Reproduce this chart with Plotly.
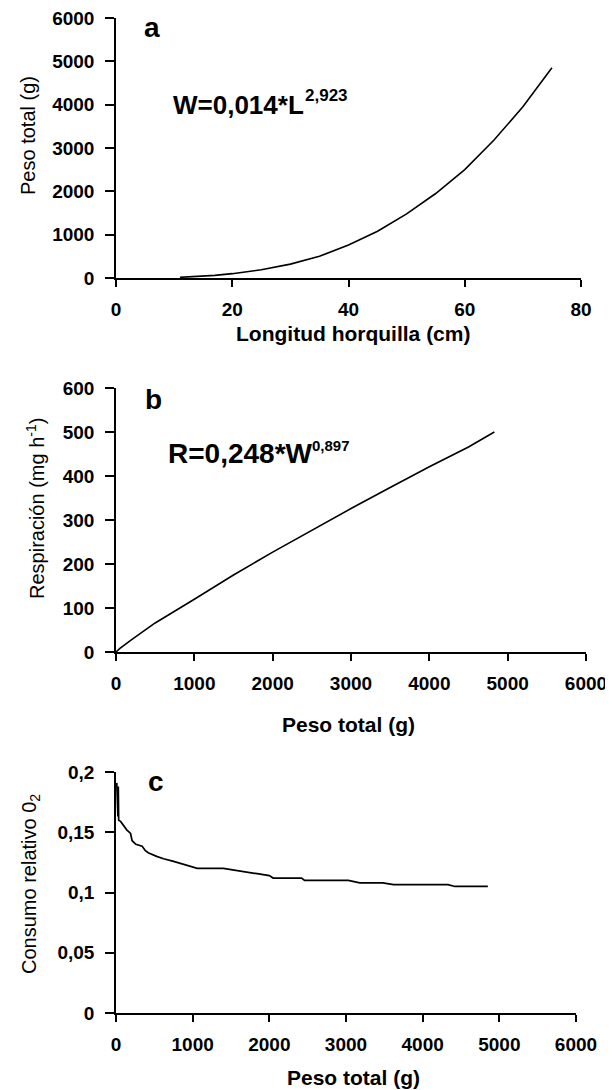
import plotly.graph_objects as go

# ---------- data ----------
# panel a: total weight vs fork length
longitud_cm = [11, 13, 15, 17, 20, 25, 30, 35, 40, 45, 50, 55, 60, 65, 70, 75]
peso_a_g = [15, 25, 40, 60, 100, 190, 320, 500, 760, 1080, 1480, 1950, 2500, 3180, 3950, 4850]

# panel b: respiration vs total weight
peso_b_g = [0, 50, 200, 500, 1000, 1500, 2000, 2500, 3000, 3500, 4000, 4500, 4830]
respiracion = [0, 8, 28, 66, 120, 175, 227, 277, 326, 374, 421, 466, 500]

# panel c: relative O2 consumption vs total weight
peso_c_g = [10, 15, 20, 25, 30, 35, 60, 90, 140, 190, 210, 260, 340, 380, 420, 530, 620,
            740, 900, 960, 1060, 1400, 1500, 1700, 1850, 2000, 2050, 2420, 2460, 3030,
            3180, 3480, 3620, 4330, 4420, 4850]
consumo_rel = [0.191, 0.165, 0.190, 0.163, 0.188, 0.160, 0.159, 0.156, 0.152, 0.149, 0.143,
               0.140, 0.1385, 0.135, 0.133, 0.130, 0.128, 0.126, 0.123, 0.122, 0.120, 0.120,
               0.119, 0.1165, 0.115, 0.114, 0.112, 0.112, 0.110, 0.110, 0.108, 0.108, 0.1065,
               0.1065, 0.105, 0.105]

# ticks
xa_ticks = [0, 20, 40, 60, 80]
ya_ticks = [0, 1000, 2000, 3000, 4000, 5000, 6000]
xb_ticks = [0, 1000, 2000, 3000, 4000, 5000, 6000]
yb_ticks = [0, 100, 200, 300, 400, 500, 600]
yc_ticks = [0, 0.05, 0.1, 0.15, 0.2]
yc_ticktext = ["0", "0,05", "0,1", "0,15", "0,2"]

# the page body adds an 8px margin; size the figure so it fits the window
OFF = 8
W, H = 613 - OFF, 1090 - OFF
BASE = "Liberation Sans, Arial, sans-serif"
NARROW = "Liberation Sans Narrow, Arial Narrow, Liberation Sans, Arial, sans-serif"

def px(x):
    return (x - OFF) / W

def py(y):
    return 1 - (y - OFF) / H

fig = go.Figure()
fig.add_trace(go.Scatter(x=longitud_cm, y=peso_a_g, mode="lines", line=dict(color="black", width=1.6),
                         xaxis="x", yaxis="y", showlegend=False))
fig.add_trace(go.Scatter(x=peso_b_g, y=respiracion, mode="lines", line=dict(color="black", width=1.6),
                         xaxis="x2", yaxis="y2", showlegend=False))
fig.add_trace(go.Scatter(x=peso_c_g, y=consumo_rel, mode="lines", line=dict(color="black", width=1.7),
                         xaxis="x3", yaxis="y3", showlegend=False))

tickfont = dict(family=BASE, size=19, color="black", weight="bold")

def xax(domain, anchor, rng, ticks):
    return dict(domain=domain, anchor=anchor, range=rng, tickvals=ticks, showgrid=False,
                zeroline=False, showline=True, linecolor="black", linewidth=1.5,
                ticks="outside", ticklen=7, tickwidth=1.5, tickcolor="black",
                tickfont=tickfont, ticklabelstandoff=6, fixedrange=True, automargin=False,
                ticklabeloverflow="allow")

def yax(domain, anchor, rng, ticks, text=None):
    d = dict(domain=domain, anchor=anchor, range=rng, tickvals=ticks, showgrid=False,
             zeroline=False, showline=True, linecolor="black", linewidth=1.5,
             ticks="outside", ticklen=9, tickwidth=1.5, tickcolor="black",
             tickfont=tickfont, ticklabelstandoff=7, fixedrange=True, automargin=False,
             ticklabeloverflow="allow")
    if text is not None:
        d["ticktext"] = text
    return d

fig.update_layout(
    template="none",
    width=W, height=H,
    margin=dict(l=0, r=0, t=0, b=0, pad=0, autoexpand=False),
    paper_bgcolor="white", plot_bgcolor="white",
    xaxis=xax([px(116), px(581)], "y", [0, 80], xa_ticks),
    yaxis=yax([py(278), py(18)], "x", [0, 6000], ya_ticks),
    xaxis2=xax([px(116), px(586)], "y2", [0, 6000], xb_ticks),
    yaxis2=yax([py(652), py(388)], "x2", [0, 600], yb_ticks),
    xaxis3=xax([px(116), px(576)], "y3", [0, 6000], xb_ticks),
    yaxis3=yax([py(1013), py(772)], "x3", [0, 0.2], yc_ticks, yc_ticktext),
)

ann = []
def text(x, y, s, size, bold=False, family=BASE, angle=0, xanchor="center", yanchor="middle"):
    f = dict(family=family, size=size, color="black")
    if bold:
        f["weight"] = "bold"
    ann.append(dict(x=px(x), y=py(y), xref="paper", yref="paper", text=s, showarrow=False,
                    font=f, textangle=angle, xanchor=xanchor, yanchor=yanchor))

# axis titles
text(353, 333, "Longitud horquilla (cm)", 21, bold=True)
text(348, 724, "Peso total (g)", 21, bold=True)
text(353, 1077, "Peso total (g)", 21, bold=True)
text(28, 136, "Peso total (g)", 20, angle=-90)
text(35, 509, "Respiración (mg h<sup>-1</sup>)", 20, angle=-90)
text(30, 884, "Consumo relativo 0<sub>2</sub>", 20, angle=-90)

# panel letters
text(152, 27, "a", 28, bold=True, family=NARROW)
text(153, 400, "b", 28, bold=True, family=NARROW)
text(156, 781, "c", 28, bold=True, family=NARROW)

# equations
text(171, 105, "W=0,014*L", 26, bold=True, xanchor="left")
text(303, 95, "2,923", 17, bold=True, xanchor="left")
text(166, 453, "R=0,248*W", 28, bold=True, xanchor="left")
text(310, 445, "0,897", 15, bold=True, xanchor="left")

fig.update_layout(annotations=ann)
fig.write_html("out.html")
